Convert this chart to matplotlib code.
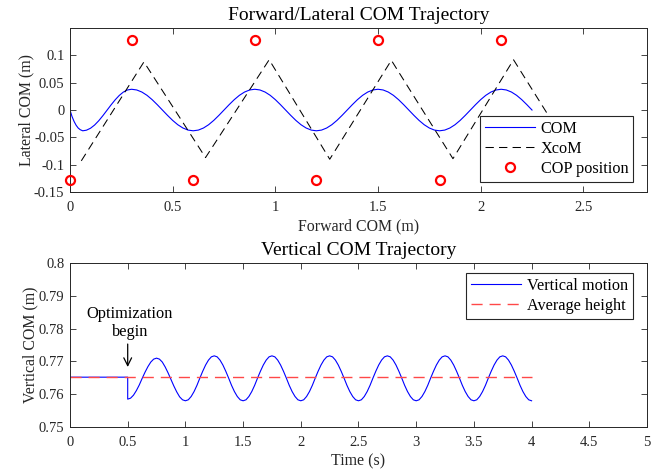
import numpy as np
import matplotlib
matplotlib.use('Agg')
import matplotlib.pyplot as plt

plt.rcParams['font.family'] = ['Liberation Serif', 'DejaVu Serif']
plt.rcParams['axes.linewidth'] = 0.7

# ---- top plot data: forward vs lateral COM ----
com_x_start = [0.0, 0.005, 0.01, 0.02, 0.03, 0.04, 0.05, 0.062, 0.08, 0.1, 0.12, 0.14,
               0.16, 0.18, 0.2, 0.22, 0.24, 0.26, 0.28]
com_y_start = [0.0, -0.006, -0.012, -0.021, -0.028, -0.033, -0.036, -0.038, -0.0369, -0.0333,
               -0.0274, -0.0196, -0.0104, -0.0005, 0.0094, 0.0187, 0.0267, 0.0329, 0.0367]
com_x_main = np.round(np.arange(0.3, 2.2501, 0.025), 3)
com_y_main = [
    0.038,
    0.0367, 0.0329, 0.0269, 0.0190, 0.0098, 0.0, -0.0098, -0.0190, -0.0269, -0.0329, -0.0367, -0.038,
    -0.0367, -0.0329, -0.0269, -0.0190, -0.0098, 0.0, 0.0098, 0.0190, 0.0269, 0.0329, 0.0367, 0.038,
    0.0367, 0.0329, 0.0269, 0.0190, 0.0098, 0.0, -0.0098, -0.0190, -0.0269, -0.0329, -0.0367, -0.038,
    -0.0367, -0.0329, -0.0269, -0.0190, -0.0098, 0.0, 0.0098, 0.0190, 0.0269, 0.0329, 0.0367, 0.038,
    0.0367, 0.0329, 0.0269, 0.0190, 0.0098, 0.0, -0.0098, -0.0190, -0.0269, -0.0329, -0.0367, -0.038,
    -0.0367, -0.0329, -0.0269, -0.0190, -0.0098, 0.0, 0.0098, 0.0190, 0.0269, 0.0329, 0.0367, 0.038,
    0.0367, 0.0329, 0.0269, 0.0190, 0.0098, 0.0,
]
com_x = np.concatenate([com_x_start, com_x_main])
com_y = np.concatenate([com_y_start, com_y_main])

xcom_x = [0.055, 0.36, 0.66, 0.97, 1.265, 1.565, 1.865, 2.16, 2.36]
xcom_y = [-0.093, 0.088, -0.087, 0.092, -0.090, 0.091, -0.089, 0.092, -0.028]

cop_x = [0.0, 0.3, 0.6, 0.9, 1.2, 1.5, 1.8, 2.1]
cop_y = [-0.128, 0.128, -0.128, 0.128, -0.128, 0.128, -0.128, 0.128]

# ---- bottom plot data: vertical COM over time ----
t_flat = [0.0, 0.5]
z_flat = [0.7652, 0.7652]
t_walk = np.round(np.arange(0.5, 4.0001, 0.025), 3)
z_walk = [
    0.7585, 0.7588, 0.7597, 0.7611, 0.7628, 0.7648, 0.7667, 0.7684, 0.7698, 0.7707, 0.7710,
    0.7707, 0.7698, 0.7683, 0.7665, 0.7645, 0.7625, 0.7607, 0.7592, 0.7583, 0.7580,
    0.7583, 0.7593, 0.7608, 0.7627, 0.7649, 0.7670, 0.7689, 0.7704, 0.7714, 0.7717,
    0.7714, 0.7704, 0.7689, 0.7670, 0.7649, 0.7627, 0.7608, 0.7593, 0.7583, 0.7580,
    0.7583, 0.7593, 0.7608, 0.7627, 0.7649, 0.7670, 0.7689, 0.7704, 0.7714, 0.7717,
    0.7714, 0.7704, 0.7689, 0.7670, 0.7649, 0.7627, 0.7608, 0.7593, 0.7583, 0.7580,
    0.7583, 0.7593, 0.7608, 0.7627, 0.7649, 0.7670, 0.7689, 0.7704, 0.7714, 0.7717,
    0.7714, 0.7704, 0.7689, 0.7670, 0.7649, 0.7627, 0.7608, 0.7593, 0.7583, 0.7580,
    0.7583, 0.7593, 0.7608, 0.7627, 0.7649, 0.7670, 0.7689, 0.7704, 0.7714, 0.7717,
    0.7714, 0.7704, 0.7689, 0.7670, 0.7649, 0.7627, 0.7608, 0.7593, 0.7583, 0.7580,
    0.7583, 0.7593, 0.7608, 0.7627, 0.7649, 0.7670, 0.7689, 0.7704, 0.7714, 0.7717,
    0.7714, 0.7704, 0.7689, 0.7670, 0.7649, 0.7627, 0.7608, 0.7593, 0.7583, 0.7580,
    0.7583, 0.7593, 0.7608, 0.7627, 0.7649, 0.7670, 0.7689, 0.7704, 0.7714, 0.7717,
    0.7714, 0.7704, 0.7689, 0.7670, 0.7649, 0.7627, 0.7608, 0.7593, 0.7583, 0.7580,
]
t_vert = np.concatenate([t_flat, t_walk])
z_vert = np.concatenate([z_flat, z_walk])

avg_t = [0.0, 4.0]
avg_z = [0.7652, 0.7652]

top_xticks = [0, 0.5, 1, 1.5, 2, 2.5]
top_yticks = [-0.15, -0.1, -0.05, 0, 0.05, 0.1]
top_yticklabels = ['-0.15', '-0.1', '-0.05', '0', '0.05', '0.1']
bot_xticks = [0, 0.5, 1, 1.5, 2, 2.5, 3, 3.5, 4, 4.5, 5]
bot_xticklabels = ['0', '0.5', '1', '1.5', '2', '2.5', '3', '3.5', '4', '4.5', '5']
bot_yticks = [0.75, 0.76, 0.77, 0.78, 0.79, 0.8]
bot_yticklabels = ['0.75', '0.76', '0.77', '0.78', '0.79', '0.8']

axis_col = '#262626'

fig = plt.figure(figsize=(6.61, 4.76), dpi=100)
ax1 = fig.add_axes([0.1059, 0.5966, 0.8729, 0.3445])
ax2 = fig.add_axes([0.1059, 0.1029, 0.8729, 0.3445])

for ax in (ax1, ax2):
    ax.tick_params(direction='in', top=True, right=True, length=4, width=0.6,
                   labelsize=10.5, colors=axis_col, pad=4)
    ax.tick_params(axis='x', pad=6.5)
    for sp in ax.spines.values():
        sp.set_color(axis_col)

# top
ax1.plot(com_x, com_y, color='#0000ff', lw=0.8, label='COM')
ax1.plot(xcom_x, xcom_y, color='black', lw=0.75, dashes=(8, 5), label='XcoM')
ax1.plot(cop_x, cop_y, linestyle='none', marker='o', markersize=6.5, mfc='none',
         mec='#ff0000', mew=1.6, label='COP position', clip_on=False, zorder=5)
ax1.set_xlim(0, 2.81)
ax1.set_ylim(-0.15, 0.15)
ax1.set_xticks(top_xticks)
ax1.set_xticklabels(['0', '0.5', '1', '1.5', '2', '2.5'])
ax1.set_yticks(top_yticks)
ax1.set_yticklabels(top_yticklabels)
ax1.set_title('Forward/Lateral COM Trajectory', fontsize=14, color='black', pad=6)
ax1.set_xlabel('Forward COM (m)', fontsize=11.4, color=axis_col, labelpad=3)
ax1.set_ylabel('Lateral COM (m)', fontsize=11.4, color=axis_col, labelpad=0)
leg1 = ax1.legend(loc='upper right', bbox_to_anchor=(0.976, 0.463), borderaxespad=0,
                  fontsize=11.7, handlelength=3.1, handletextpad=0.35, labelspacing=0.25,
                  borderpad=0.3, fancybox=False, framealpha=1, edgecolor=axis_col)
leg1.get_frame().set_linewidth(0.8)

# bottom
ax2.plot(t_vert, z_vert, color='#0000ff', lw=0.8, label='Vertical motion')
ax2.plot(avg_t, avg_z, color='#ff4848', lw=1.0, dashes=(8, 5), label='Average height')
ax2.set_xlim(0, 5)
ax2.set_ylim(0.75, 0.8)
ax2.set_xticks(bot_xticks)
ax2.set_xticklabels(bot_xticklabels)
ax2.set_yticks(bot_yticks)
ax2.set_yticklabels(bot_yticklabels)
ax2.set_title('Vertical COM Trajectory', fontsize=14, color='black', pad=6)
ax2.set_xlabel('Time (s)', fontsize=11.4, color=axis_col, labelpad=3)
ax2.set_ylabel('Vertical COM (m)', fontsize=11.4, color=axis_col, labelpad=0)
leg2 = ax2.legend(loc='upper right', bbox_to_anchor=(0.976, 0.939), borderaxespad=0,
                  fontsize=11.7, handlelength=3.1, handletextpad=0.35, labelspacing=0.25,
                  borderpad=0.3, fancybox=False, framealpha=1, edgecolor=axis_col)
leg2.get_frame().set_linewidth(0.8)

ax2.annotate('', xy=(0.5, 0.7683), xytext=(0.5, 0.7753),
             arrowprops=dict(arrowstyle='->', color='black', lw=0.9,
                             shrinkA=0, shrinkB=0, mutation_scale=14))
ax2.text(0.52, 0.7817, 'Optimization\nbegin', ha='center', va='center',
         fontsize=11.8, linespacing=1.15)

fig.savefig('out.png', dpi=100)
